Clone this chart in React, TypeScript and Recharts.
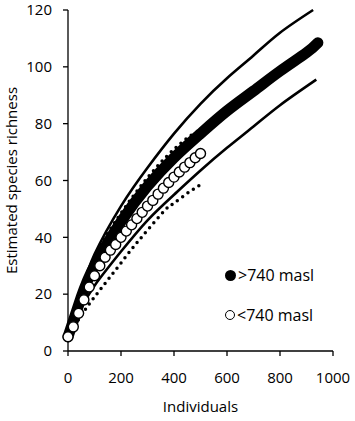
import { ComposedChart, Line, XAxis, YAxis } from 'recharts';

const xTicks = [0, 200, 400, 600, 800, 1000];
const yTicks = [0, 20, 40, 60, 80, 100, 120];

// >740 masl: estimated richness (filled markers) and its bounds (solid lines)
const highX = [0, 50, 100, 200, 300, 400, 500, 600, 700, 800, 900, 943];
const highY = [5, 19, 30, 45.5, 58, 68, 76.5, 84.5, 91.5, 98.5, 105, 108.5];
const highUpperX = [0, 50, 100, 200, 300, 400, 500, 600, 700, 800, 925];
const highUpperY = [5, 21, 34, 51, 64.5, 76.5, 87, 96, 104, 112, 120];
const highLowerX = [0, 50, 100, 200, 300, 400, 500, 600, 700, 800, 937];
const highLowerY = [5, 15, 23, 35, 46, 55, 63.5, 71.5, 79, 86.5, 95.5];

// <740 masl: estimated richness (open markers) and its bounds (dotted lines)
const lowX = [0, 20, 40, 60, 80, 100, 120, 140, 160, 180, 200, 220, 240, 260, 280, 300, 320, 340, 360, 380, 400, 420, 440, 460, 480, 500];
const lowY = [5, 8.5, 13.3, 18, 22.5, 26.5, 30, 33, 35.5, 37.5, 40, 42.2, 44.4, 46.6, 48.8, 51, 53, 55.2, 57.3, 59.3, 61.2, 63, 64.7, 66.3, 68, 69.5];
const lowUpperX = [0, 100, 200, 300, 400, 480];
const lowUpperY = [5, 32, 48.5, 61, 71, 77];
const lowLowerX = [0, 50, 100, 150, 200, 250, 300, 365, 400, 450, 500];
const lowLowerY = [5, 12.5, 19, 25, 31, 37, 42.5, 49.5, 52, 55.5, 58.5];

const zip = (xs: number[], ys: number[]) => xs.map((x, i) => ({ x, y: ys[i] }));

const font = '"Open Sans", sans-serif';

export default function App() {
  return (
    <div style={{ position: 'absolute', left: 0, top: 0, width: 355, height: 421, background: '#fff' }}>
      <ComposedChart width={355} height={421} margin={{ top: 10, right: 22, bottom: 0, left: 0 }}>
        <XAxis
          dataKey="x"
          type="number"
          domain={[0, 1000]}
          ticks={xTicks}
          height={70}
          tickSize={5}
          tickMargin={16}
          stroke="#000"
          strokeWidth={1.3}
          tick={{ fill: '#000', fontSize: 15, fontFamily: font }}
          label={{ value: 'Individuals', position: 'insideBottom', offset: 9, style: { fill: '#000', fontSize: 15, fontFamily: font } }}
        />
        <YAxis
          dataKey="y"
          type="number"
          domain={[0, 120]}
          ticks={yTicks}
          width={68}
          tickSize={5}
          tickMargin={11}
          stroke="#000"
          strokeWidth={1.3}
          tick={{ fill: '#000', fontSize: 15, fontFamily: font }}
          label={{ value: 'Estimated species richness', angle: -90, position: 'insideLeft', offset: 12, style: { textAnchor: 'middle', fill: '#000', fontSize: 15, fontFamily: font } }}
        />
        <Line data={zip(highUpperX, highUpperY)} dataKey="y" type="natural" stroke="#000" strokeWidth={2.6} dot={false} isAnimationActive={false} />
        <Line data={zip(highLowerX, highLowerY)} dataKey="y" type="natural" stroke="#000" strokeWidth={2.6} dot={false} isAnimationActive={false} />
        <Line data={zip(lowLowerX, lowLowerY)} dataKey="y" type="natural" stroke="#000" strokeWidth={3.5} strokeDasharray="0 6.5" strokeLinecap="round" dot={false} isAnimationActive={false} />
        <Line data={zip(lowUpperX, lowUpperY)} dataKey="y" type="natural" stroke="#000" strokeWidth={3.5} strokeDasharray="0 6.5" strokeLinecap="round" dot={false} isAnimationActive={false} />
        <Line data={zip(highX, highY)} dataKey="y" type="natural" stroke="#000" strokeWidth={11} strokeLinecap="round" dot={false} isAnimationActive={false} />
        <Line data={zip(lowX, lowY)} dataKey="y" type="natural" stroke="none" dot={{ r: 5, fill: '#fff', stroke: '#000', strokeWidth: 1.4 }} isAnimationActive={false} />
      </ComposedChart>
      <div style={{ position: 'absolute', left: 225, top: 265, fontFamily: font, fontSize: 16, color: '#000', lineHeight: '20px' }}>
        <div style={{ display: 'flex', alignItems: 'center', height: 20 }}>
          <span style={{ width: 11, height: 11, borderRadius: '50%', background: '#000', display: 'inline-block', marginRight: 2 }} />
          <span>&gt;740 masl</span>
        </div>
        <div style={{ display: 'flex', alignItems: 'center', height: 20, marginTop: 20 }}>
          <span style={{ width: 8, height: 8, borderRadius: '50%', border: '1.5px solid #000', background: '#fff', display: 'inline-block', marginRight: 2 }} />
          <span>&lt;740 masl</span>
        </div>
      </div>
    </div>
  );
}
